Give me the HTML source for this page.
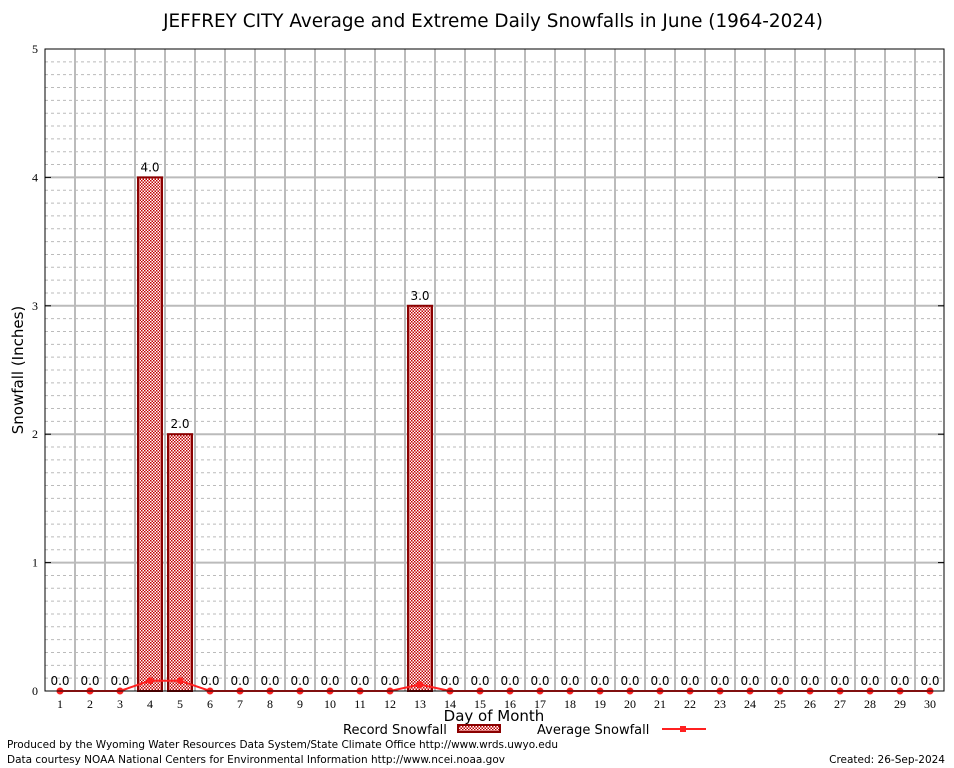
<!DOCTYPE html>
<html><head><meta charset="utf-8"><style>
body{margin:0;background:#fff;}
svg{display:block;font-family:"DejaVu Sans","Liberation Sans",sans-serif;}
</style></head><body>
<svg id="chart" width="954" height="768" viewBox="0 0 954 768">
<defs>
<pattern id="chk" width="3" height="3" patternUnits="userSpaceOnUse">
<rect width="3" height="3" fill="#fff"/><rect width="1.5" height="1.5" fill="#c00000"/><rect x="1.5" y="1.5" width="1.5" height="1.5" fill="#c00000"/>
</pattern>
</defs>
<text x="493" y="27" font-size="18.4" text-anchor="middle">JEFFREY CITY Average and Extreme Daily Snowfalls in June (1964-2024)</text>
<g id="grid"></g>
<g id="marks"></g>
<rect x="45" y="49" width="899" height="642" fill="none" stroke="#000" stroke-width="1"/>
<text transform="translate(23,370) rotate(-90)" font-size="15" text-anchor="middle">Snowfall (Inches)</text>
<text x="494" y="721" font-size="15" text-anchor="middle">Day of Month</text>
<g>
<text x="343" y="734" font-size="13">Record Snowfall</text>
<rect x="458" y="725" width="42" height="7" fill="url(#chk)" stroke="#8b0000" stroke-width="2"/>
</g>
<g>
<text x="537" y="734" font-size="13">Average Snowfall</text>
<line x1="662" y1="729" x2="706" y2="729" stroke="#ff2020" stroke-width="2"/>
<rect x="680" y="726" width="6" height="6" fill="#ff2020"/>
</g>
<text x="7" y="748" font-size="10.5" textLength="551">Produced by the Wyoming Water Resources Data System/State Climate Office http://www.wrds.uwyo.edu</text>
<text x="7" y="763" font-size="10.5" textLength="498">Data courtesy NOAA National Centers for Environmental Information http://www.ncei.noaa.gov</text>
<text x="945" y="763" font-size="10.5" text-anchor="end">Created: 26-Sep-2024</text>
</svg>
<script>
const days=[1,2,3,4,5,6,7,8,9,10,11,12,13,14,15,16,17,18,19,20,21,22,23,24,25,26,27,28,29,30];
const recordSnow=[0,0,0,4.0,2.0,0,0,0,0,0,0,0,3.0,0,0,0,0,0,0,0,0,0,0,0,0,0,0,0,0,0];
const avgSnow=[0,0,0,0.08,0.08,0,0,0,0,0,0,0,0.05,0,0,0,0,0,0,0,0,0,0,0,0,0,0,0,0,0];
const yTicks=[0,1,2,3,4,5];
const NS="http://www.w3.org/2000/svg";
const L=45,R=944,T=49,B=691,yMax=5;
const xS=d=>60+(d-1)*30;
const yS=v=>B-(v/yMax)*(B-T);
function mk(tag,attrs,parent){const e=document.createElementNS(NS,tag);for(const k in attrs)e.setAttribute(k,attrs[k]);parent.appendChild(e);return e;}
const grid=document.getElementById('grid'),marks=document.getElementById('marks');
for(let i=1;i<yMax*10;i++){if(i%10===0)continue;const y=yS(i/10);
 const l=mk('line',{x1:L,x2:R,y1:y,y2:y,stroke:'#bbb','stroke-dasharray':'3,3','stroke-width':1},grid);
 
 }
for(let d=1;d<days.length;d++){const x=xS(d)+15;
 const l=mk('line',{x1:x,x2:x,y1:T,y2:B,stroke:'#bbb','stroke-width':2},grid);
 
 }
yTicks.forEach(v=>{const y=yS(v);
 if(v>0&&v<yMax){const l=mk('line',{x1:L,x2:R,y1:y,y2:y,stroke:'#bbb','stroke-width':2},grid);
 
 }
 mk('line',{x1:L,x2:L+6,y1:y,y2:y,stroke:'#000'},grid);
 mk('line',{x1:R-6,x2:R,y1:y,y2:y,stroke:'#000'},grid);
 const t=mk('text',{x:L-7,y:y+4,'font-size':12,'text-anchor':'end','font-family':'Liberation Serif,serif'},grid);t.textContent=v;
 
 });
days.forEach((d,i)=>{const x=xS(d);
 const t=mk('text',{x:x,y:708,'font-size':12,'text-anchor':'middle','font-family':'Liberation Serif,serif'},grid);t.textContent=d;
 
 
 const v=recordSnow[i];
 if(v>0){const y=yS(v);
  const b=mk('rect',{x:x-12,y:y,width:24,height:B-y,fill:'url(#chk)',stroke:'#8b0000','stroke-width':2},marks);
  
  }
 const lb=mk('text',{x:x,y:yS(v)-6,'font-size':12,'text-anchor':'middle'},marks);lb.textContent=v.toFixed(1);
 
 });
const pts=days.map((d,i)=>xS(d)+','+yS(avgSnow[i])).join(' ');
const pl=mk('polyline',{points:pts,fill:'none',stroke:'#ff2020','stroke-width':2},marks);


days.forEach((d,i)=>{const p=mk('circle',{cx:xS(d),cy:yS(avgSnow[i]),r:3.5,fill:'#ff2020'},marks);
 
 });
</script>
</body></html>
